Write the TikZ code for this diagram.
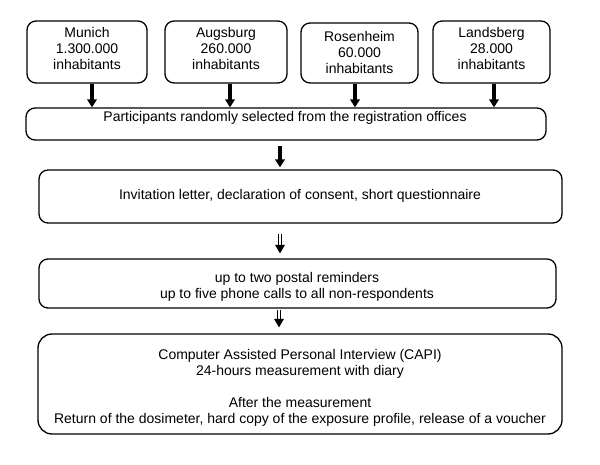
\documentclass[tikz,border=0pt]{standalone}
\usepackage{fontspec}
\setmainfont{Liberation Sans}
\usetikzlibrary{arrows.meta}
\begin{document}
\begin{tikzpicture}[x=1pt,y=-1pt,
  box/.style={draw, line width=1.3pt, rounded corners=9pt, inner sep=0pt},
  txt/.style={align=center, font=\fontsize{14}{16}\selectfont, inner sep=0pt},
  solidarrow/.style={line width=3.6pt, -{Triangle[length=8pt,width=9.5pt]}},
  dblshaft/.style={double, line width=1.4pt, double distance=1.8pt, shorten >=7pt},
  dblhead/.style={fill=black}]
\useasboundingbox[fill=white] (0,0) rectangle (600,465);
% top boxes
\node[box, minimum width=120pt, minimum height=62pt] (mun) at (87,52) {};
\node[txt] (munT) at (87,48) {Munich\\1.300.000\\inhabitants};
\node[box, minimum width=122pt, minimum height=62pt] (aug) at (226,52) {};
\node[txt] (augT) at (226,48) {Augsburg\\260.000\\inhabitants};
\node[box, minimum width=117pt, minimum height=60pt] (ros) at (359.5,53) {};
\node[txt] (rosT) at (359.5,52) {Rosenheim\\60.000\\inhabitants};
\node[box, minimum width=117pt, minimum height=62pt] (lan) at (491.5,52) {};
\node[txt] (lanT) at (491.5,48) {Landsberg\\28.000\\inhabitants};
% participants
\node[box, minimum width=520pt, minimum height=32pt] (par) at (286,124) {};
\node[txt] (parT) at (285,118) {Participants randomly selected from the registration offices};
% invitation
\node[box, minimum width=523pt, minimum height=53pt] (inv) at (300.5,196.5) {};
\node[txt] (invT) at (300,196) {Invitation letter, declaration of consent, short questionnaire};
% reminders
\node[box, minimum width=517pt, minimum height=49pt] (rem) at (297.5,283.5) {};
\node[txt] (remT) at (297,287) {up to two postal reminders\\up to five phone calls to all non-respondents};
% CAPI
\node[box, rounded corners=14pt, minimum width=524pt, minimum height=100pt] (capi) at (300,384) {};
\node[txt] (capiT) at (300,388) {Computer Assisted Personal Interview (CAPI)\\24-hours measurement with diary\\[16pt]After the measurement\\Return of the dosimeter, hard copy of the exposure profile, release of a voucher};
% arrows top
\draw[solidarrow] ([xshift=5pt]mun.south) -- ([xshift=5pt]mun.south |- par.north);
\draw[solidarrow] ([xshift=4pt]aug.south) -- ([xshift=4pt]aug.south |- par.north);
\draw[solidarrow] ([xshift=-4.5pt]ros.south) -- ([xshift=-4.5pt]ros.south |- par.north);
\draw[solidarrow] ([xshift=2.5pt]lan.south) -- ([xshift=2.5pt]lan.south |- par.north);
% participants -> invitation
\draw[solidarrow] ([xshift=-6pt,yshift=-5pt]par.south) -- ([xshift=-20.5pt,yshift=2pt]inv.north);
% invitation -> reminders
\coordinate (d1s) at ([xshift=-20.5pt,yshift=-10pt]inv.south);
\coordinate (d1e) at ([xshift=-17.5pt,yshift=5pt]rem.north);
\draw[dblshaft] (d1s) -- (d1e);
\fill[dblhead] (d1e) -- ([xshift=-5pt,yshift=8.5pt]d1e) -- ([xshift=5pt,yshift=8.5pt]d1e) -- cycle;
% reminders -> CAPI
\coordinate (d2s) at ([xshift=-18.5pt,yshift=-1pt]rem.south);
\coordinate (d2e) at ([xshift=-21pt,yshift=6pt]capi.north);
\draw[dblshaft] (d2s) -- (d2e);
\fill[dblhead] (d2e) -- ([xshift=-5pt,yshift=8.5pt]d2e) -- ([xshift=5pt,yshift=8.5pt]d2e) -- cycle;
\end{tikzpicture}
\end{document}
